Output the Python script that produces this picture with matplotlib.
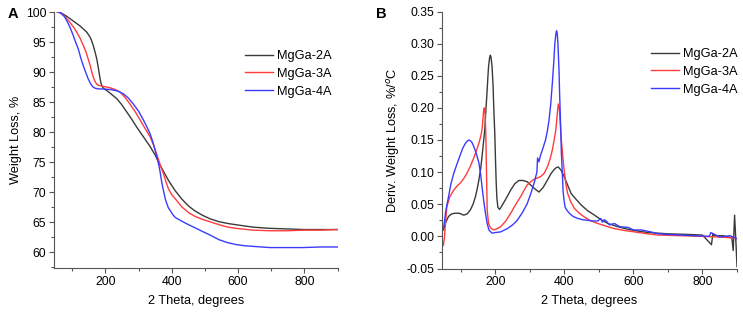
import matplotlib
matplotlib.use('Agg')
import matplotlib.pyplot as plt
from matplotlib.ticker import MultipleLocator, FormatStrFormatter

plt.rcParams['font.family'] = ['Liberation Sans', 'DejaVu Sans']
plt.rcParams['axes.unicode_minus'] = False

labels = ['MgGa-2A', 'MgGa-3A', 'MgGa-4A']
colors = ['#3a3a3a', '#ff3b3b', '#3b3bff']

# panel A: weight loss (%)
tga_x_2a = [55, 68, 80, 93, 103, 113, 123, 133, 143, 153, 158, 163, 168, 174, 179, 184, 187, 190, 193,
            196, 205, 214, 234, 249, 264, 280, 295, 315, 335, 350, 365, 378, 390, 410, 430, 451, 470,
            492, 515, 543, 570, 594, 645, 695, 750, 797, 850, 900]
tga_y_2a = [100, 99.8, 99.4, 98.9, 98.5, 98.1, 97.7, 97.2, 96.7, 95.9, 95.3, 94.5, 93.5, 92.2, 90.6,
            88.9, 88.1, 87.7, 87.4, 87.2, 86.9, 86.5, 85.6, 84.6, 83.4, 82.1, 80.8, 79.2, 77.6, 76.2,
            74.5, 73.2, 72.0, 70.3, 68.9, 67.7, 66.9, 66.2, 65.6, 65.1, 64.8, 64.6, 64.2, 64.0, 63.9,
            63.8, 63.8, 63.8]
tga_x_3a = [55, 62, 68, 75, 83, 90, 98, 105, 113, 123, 133, 141, 148, 154, 159, 164, 169, 174, 179,
            186, 195, 205, 214, 229, 244, 259, 274, 290, 305, 320, 335, 345, 355, 365, 375, 383, 390,
            400, 411, 430, 451, 470, 492, 515, 543, 570, 594, 645, 695, 750, 797, 850, 900]
tga_y_3a = [100, 99.9, 99.7, 99.4, 98.9, 98.5, 97.9, 97.4, 96.7, 95.7, 94.5, 93.4, 92.2, 91.1, 90.0,
            89.1, 88.4, 88.0, 87.8, 87.7, 87.6, 87.5, 87.4, 87.1, 86.7, 85.8, 84.7, 83.4, 82.0, 80.6,
            79.2, 77.9, 76.3, 74.6, 73.1, 71.7, 70.6, 69.6, 68.9, 67.6, 66.6, 66.0, 65.5, 65.1, 64.6,
            64.2, 64.0, 63.7, 63.6, 63.6, 63.7, 63.7, 63.8]
tga_x_4a = [58, 64, 70, 77, 83, 93, 103, 110, 118, 125, 133, 141, 148, 155, 163, 170, 178, 194, 214,
            234, 254, 269, 284, 300, 315, 325, 335, 343, 350, 355, 360, 365, 369, 373, 377, 381, 386,
            390, 395, 403, 411, 430, 451, 470, 492, 515, 543, 570, 594, 620, 645, 695, 750, 797, 850, 900]
tga_y_4a = [100, 99.9, 99.6, 99.2, 98.6, 97.5, 96.1, 95.0, 93.9, 92.5, 91.1, 89.9, 88.9, 88.1, 87.5,
            87.3, 87.2, 87.2, 87.1, 86.9, 86.4, 85.7, 84.7, 83.5, 82.0, 80.9, 79.7, 78.4, 77.0, 75.9,
            74.8, 73.4, 72.0, 70.8, 69.8, 68.8, 68.0, 67.4, 67.0, 66.3, 65.8, 65.2, 64.6, 64.1, 63.5,
            62.9, 62.1, 61.6, 61.3, 61.1, 61.0, 60.8, 60.8, 60.8, 60.9, 60.9]

# panel B: derivative weight loss (%/C)
dtg_x_2a = [49, 56, 64, 73, 83, 95, 108, 118, 127, 135, 142, 147, 152, 157, 161, 165, 169, 172, 175,
            178, 180, 183, 185, 187, 190, 193, 195, 198, 200, 202, 204, 207, 212, 220, 232, 244, 256,
            268, 280, 292, 302, 312, 326, 338, 351, 360, 370, 376, 382, 390, 399, 409, 419, 433, 448,
            467, 487, 506, 526, 555, 584, 615, 642, 700, 760, 800, 826, 830, 834, 860, 885, 889, 893,
            897, 900]
dtg_y_2a = [0.010, 0.022, 0.031, 0.035, 0.036, 0.036, 0.033, 0.035, 0.041, 0.050, 0.062, 0.074, 0.088,
            0.105, 0.124, 0.145, 0.166, 0.195, 0.220, 0.248, 0.265, 0.278, 0.282, 0.279, 0.265, 0.235,
            0.200, 0.160, 0.120, 0.085, 0.060, 0.045, 0.042, 0.049, 0.060, 0.072, 0.082, 0.087, 0.087,
            0.085, 0.080, 0.075, 0.069, 0.076, 0.088, 0.097, 0.104, 0.107, 0.108, 0.103, 0.093, 0.080,
            0.067, 0.058, 0.049, 0.040, 0.033, 0.026, 0.020, 0.015, 0.011, 0.008, 0.006, 0.004, 0.003,
            0.002, -0.013, 0.004, 0.001, 0.001, -0.002, -0.022, 0.033, -0.010, -0.047]
dtg_x_3a = [49, 52, 55, 59, 68, 79, 88, 98, 108, 117, 127, 137, 145, 152, 157, 161, 164, 166, 168,
            170, 172, 174, 176, 180, 186, 195, 205, 215, 230, 244, 258, 273, 282, 292, 302, 312, 322,
            331, 341, 351, 358, 365, 370, 375, 379, 382, 385, 390, 395, 399, 404, 409, 418, 428, 443,
            458, 477, 497, 520, 545, 575, 603, 640, 672, 740, 800, 850, 900]
dtg_y_3a = [-0.014, -0.002, 0.020, 0.046, 0.062, 0.072, 0.078, 0.083, 0.090, 0.098, 0.109, 0.122, 0.134,
            0.145, 0.155, 0.166, 0.185, 0.198, 0.200, 0.190, 0.160, 0.100, 0.040, 0.020, 0.013, 0.010,
            0.012, 0.015, 0.024, 0.036, 0.049, 0.062, 0.071, 0.080, 0.085, 0.089, 0.091, 0.093, 0.098,
            0.109, 0.120, 0.135, 0.150, 0.166, 0.190, 0.206, 0.200, 0.155, 0.125, 0.103, 0.082, 0.067,
            0.054, 0.044, 0.036, 0.030, 0.024, 0.020, 0.016, 0.012, 0.009, 0.007, 0.004, 0.002, 0.001,
            0.000, -0.001, -0.003]
dtg_x_4a = [49, 56, 64, 71, 79, 88, 98, 105, 113, 118, 122, 127, 132, 137, 145, 152, 157, 161, 166,
            171, 176, 181, 190, 200, 215, 234, 250, 263, 278, 292, 302, 312, 320, 322, 326, 330, 338,
            345, 350, 355, 360, 365, 369, 372, 375, 377, 379, 381, 384, 386, 389, 391, 394, 396, 399,
            402, 408, 414, 425, 438, 452, 467, 482, 497, 505, 510, 515, 521, 530, 545, 560, 584, 600,
            623, 650, 672, 700, 740, 780, 820, 824, 850, 880, 905]
dtg_y_4a = [0.010, 0.040, 0.062, 0.082, 0.098, 0.112, 0.127, 0.137, 0.145, 0.148, 0.150, 0.149, 0.146,
            0.140, 0.128, 0.114, 0.097, 0.077, 0.055, 0.036, 0.020, 0.010, 0.005, 0.006, 0.007, 0.012,
            0.018, 0.025, 0.037, 0.051, 0.066, 0.083, 0.100, 0.122, 0.116, 0.125, 0.138, 0.150, 0.163,
            0.180, 0.205, 0.240, 0.272, 0.300, 0.315, 0.320, 0.316, 0.300, 0.260, 0.220, 0.170, 0.130,
            0.095, 0.070, 0.055, 0.045, 0.040, 0.036, 0.031, 0.028, 0.026, 0.025, 0.024, 0.024, 0.028,
            0.022, 0.026, 0.024, 0.018, 0.020, 0.015, 0.014, 0.010, 0.010, 0.007, 0.004, 0.003, 0.002,
            0.001, 0.000, 0.006, -0.001, 0.001, -0.005]

fig = plt.figure(figsize=(7.43, 3.16), dpi=100)
axA = fig.add_axes([54/743, 1-268/316, 283.5/743, 256/316])
axB = fig.add_axes([442/743, 1-268.5/316, 295/743, 257/316])

for x, y, c, l in zip([tga_x_2a, tga_x_3a, tga_x_4a], [tga_y_2a, tga_y_3a, tga_y_4a], colors, labels):
    axA.plot(x, y, color=c, lw=1.0, label=l)
for x, y, c, l in zip([dtg_x_2a, dtg_x_3a, dtg_x_4a], [dtg_y_2a, dtg_y_3a, dtg_y_4a], colors, labels):
    axB.plot(x, y, color=c, lw=1.0, label=l)

axA.set_xlim(45, 900)
axA.set_ylim(57.4, 100)
axA.yaxis.set_major_locator(MultipleLocator(5))
axA.yaxis.set_minor_locator(MultipleLocator(2.5))
axA.set_ylabel('Weight Loss, %', fontsize=9.2, labelpad=3)

axB.set_xlim(45, 900)
axB.set_ylim(-0.05, 0.35)
axB.yaxis.set_major_locator(MultipleLocator(0.05))
axB.yaxis.set_minor_locator(MultipleLocator(0.025))
axB.yaxis.set_major_formatter(FormatStrFormatter('%.2f'))
axB.set_ylabel('Deriv. Weight Loss, %/$^o$C', fontsize=9.2, labelpad=3)

for ax in (axA, axB):
    ax.xaxis.set_major_locator(MultipleLocator(200))
    ax.xaxis.set_minor_locator(MultipleLocator(100))
    ax.spines['top'].set_visible(False)
    ax.spines['right'].set_visible(False)
    ax.spines['left'].set_color('#555555')
    ax.spines['bottom'].set_color('#555555')
    ax.tick_params(which='major', direction='out', length=3.5, width=0.8, labelsize=8.8, color='#555555', pad=2)
    ax.tick_params(which='minor', direction='out', length=2, width=0.8, color='#555555')
    ax.set_xlabel('2 Theta, degrees', fontsize=9.2, labelpad=5)
    ax.legend(loc='upper left', frameon=False, fontsize=9.2, handlelength=2.2, handletextpad=0.3,
              labelspacing=0.45, borderpad=0, borderaxespad=0)

axA.get_legend().set_bbox_to_anchor((245/743, 1-50/316), transform=fig.transFigure)
axB.get_legend().set_bbox_to_anchor((651/743, 1-48/316), transform=fig.transFigure)

fig.text(8/743, 1-14/316, 'A', fontsize=10.5, fontweight='bold', va='center')
fig.text(376/743, 1-14/316, 'B', fontsize=10.5, fontweight='bold', va='center')

fig.savefig('out.png', dpi=100)
